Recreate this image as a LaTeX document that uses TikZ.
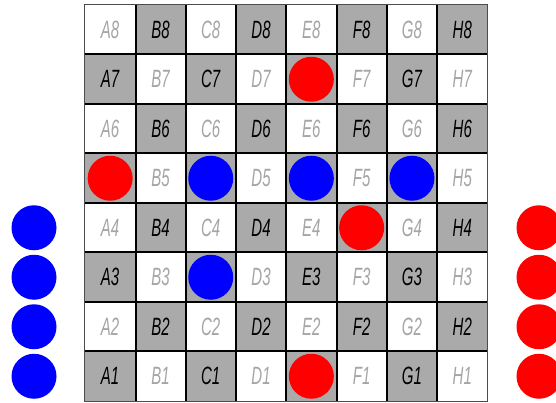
\documentclass[tikz,border=0pt]{standalone}
\usepackage{fontspec}
\setmainfont{Liberation Sans}
\usetikzlibrary{positioning}
\definecolor{cellgray}{RGB}{170,170,170}
\definecolor{labelgray}{RGB}{165,165,165}
\definecolor{pieceblue}{RGB}{0,0,255}
\definecolor{piecered}{RGB}{255,0,0}
\newcommand{\sqlabel}[1]{\scalebox{0.6}[1]{\itshape #1}}

\begin{document}
\begin{tikzpicture}[x=1pt, y=1pt, font=\fontsize{25}{25}\selectfont,
  cell0/.style={fill=white, text=labelgray, minimum width=50.3pt, minimum height=49.5pt, inner sep=0pt},
  cell1/.style={fill=cellgray, text=black, minimum width=50.3pt, minimum height=49.5pt, inner sep=0pt},
  piece/.style={circle, minimum size=45pt, inner sep=0pt}]
  \useasboundingbox (0,0) rectangle (556,402);
  % board squares
  \foreach \f [count=\i from 0] in {A,B,C,D,E,F,G,H}{
    \foreach \r in {1,...,8}{
      \pgfmathtruncatemacro{\dark}{mod(\i+\r,2)}
      \node[cell\dark] (\f\r) at ({85+(\i+0.5)*50.3}, {1+(\r-0.5)*49.5})
            {\raisebox{-2pt}{\sqlabel{\f\r}}};
    }
  }
  % grid lines
  \foreach \f in {A,B,C,D,E,F,G}{
    \draw[line width=2pt] (\f1.south east) -- (\f8.north east);
  }
  \foreach \r in {1,...,7}{
    \draw[line width=2pt] (A\r.north west) -- (H\r.north east);
  }
  \draw[black!70, line width=0.8pt] (A1.south west) rectangle (H8.north east);
  % pieces on the board
  \foreach \sq in {E7,A5,F4,E1}{
    \node[piece, fill=piecered] (red\sq) at (\sq) {};
  }
  \foreach \sq in {C5,E5,G5,C3}{
    \node[piece, fill=pieceblue] (blue\sq) at (\sq) {};
  }
  % spare pieces
  \foreach \r in {1,...,4}{
    \node[piece, fill=pieceblue] (spareblue\r) at (34, {1+(\r-0.5)*49.5}) {};
    \node[piece, fill=piecered] (sparered\r) at (539, {1+(\r-0.5)*49.5}) {};
  }
\end{tikzpicture}
\end{document}
